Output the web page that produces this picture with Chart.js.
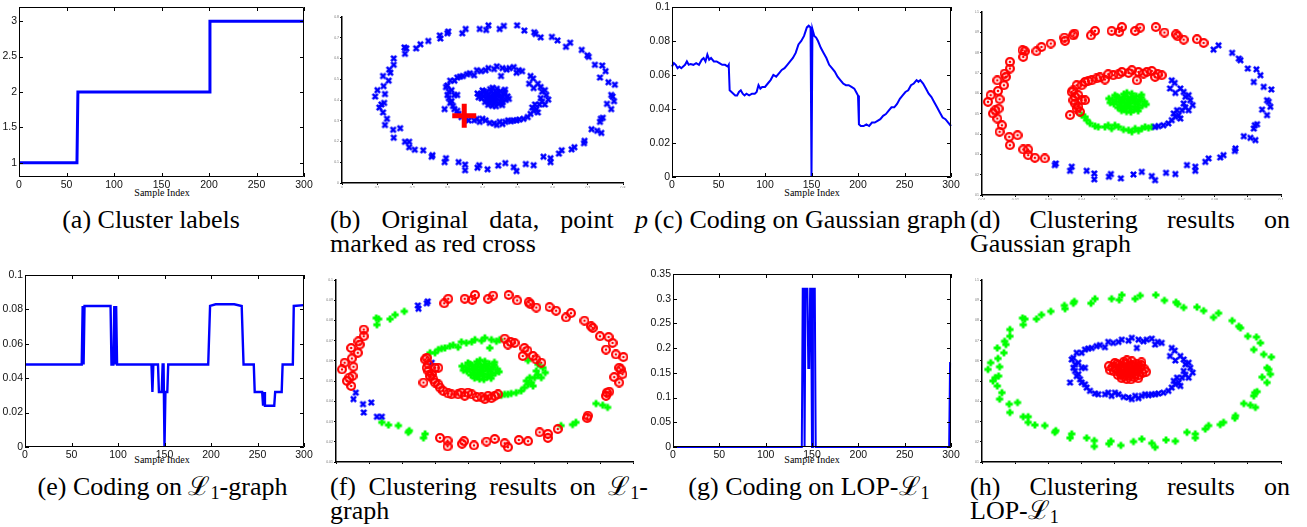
<!DOCTYPE html>
<html>
<head>
<meta charset="utf-8">
<title>Clustering on rings</title>
<script src="https://cdn.jsdelivr.net/npm/chart.js@4.4.1/dist/chart.umd.min.js"></script>
<style>
  body { margin: 0; background: #fff; }
  #fig { position: relative; width: 1307px; height: 527px; overflow: hidden; background: #fff; }
  #fig canvas { position: absolute; }
  .cap { position: absolute; font-family: "Liberation Serif", "Times New Roman", serif; font-size: 26px; line-height: 24px; color: #000; white-space: nowrap; }
  .cap .j { text-align: justify; text-align-last: justify; white-space: normal; }
  .cap sub { font-size: 0.7em; vertical-align: -0.2em; line-height: 0; }
  .xlab { position: absolute; font-family: "Liberation Serif", serif; font-size: 10px; line-height: 10px; transform: translateX(-50%); white-space: nowrap; }
</style>
</head>
<body>
<div id="fig">
  <div class="xlab" style="left:162px;top:188px">Sample Index</div>
  <div class="xlab" style="left:812px;top:188px">Sample Index</div>
  <div class="xlab" style="left:162px;top:455px">Sample Index</div>
  <div class="xlab" style="left:812px;top:455px">Sample Index</div>

  <div class="cap" style="left:0;width:302px;top:208px;text-align:center">(a) Cluster labels</div>
  <div class="cap" style="left:330px;width:318px;top:208px"><div class="j">(b) Original data, point <i>p</i></div><div>marked as red cross</div></div>
  <div class="cap" style="left:650px;width:320px;top:208px;text-align:center">(c) Coding on Gaussian graph</div>
  <div class="cap" style="left:970px;width:320px;top:208px"><div class="j">(d) Clustering results on</div><div>Gaussian graph</div></div>

  <div class="cap" style="left:0;width:325px;top:475px;text-align:center">(e) Coding on ℒ<sub>1</sub>-graph</div>
  <div class="cap" style="left:330px;width:318px;top:475px"><div class="j">(f) Clustering results on ℒ<sub>1</sub>-</div><div>graph</div></div>
  <div class="cap" style="left:650px;width:318px;top:475px;text-align:center">(g) Coding on LOP-ℒ<sub>1</sub></div>
  <div class="cap" style="left:970px;width:320px;top:475px"><div class="j">(h) Clustering results on</div><div>LOP-ℒ<sub>1</sub></div></div>
</div>

<script>
// ---------------- data ----------------
const sampleTicks = [0, 50, 100, 150, 200, 250, 300];

// (a) cluster label of every sample index
const labelSteps = [[0, 1], [61, 1], [62, 2], [200, 2], [201, 3], [300, 3]];
const labelTicks = [1, 1.5, 2, 2.5, 3];
const labelTickText = ['1', '1.5', '2', '2.5', '3'];

// (c) coding of point p on the Gaussian graph
const gaussCoding = [
  [0,0.065],[2,0.067],[4,0.066],[6,0.064],[8,0.065],[10,0.064],[12,0.065],[14,0.066],[16,0.068],[18,0.066],
  [20,0.0665],[23,0.066],[26,0.067],[29,0.066],[32,0.069],[34,0.070],[36,0.068],[38,0.072],[40,0.069],[42,0.070],
  [45,0.068],[48,0.068],[51,0.067],[54,0.066],[57,0.066],[60,0.065],[61,0.066],[62,0.051],[64,0.050],[66,0.049],
  [68,0.048],[70,0.048],[72,0.050],[74,0.051],[76,0.049],[78,0.048],[80,0.049],[83,0.048],[86,0.049],[89,0.049],
  [91,0.050],[93,0.054],[95,0.052],[97,0.053],[100,0.053],[103,0.055],[106,0.057],[109,0.060],[112,0.059],[115,0.061],
  [118,0.063],[121,0.064],[124,0.066],[127,0.068],[130,0.070],[133,0.073],[136,0.078],[139,0.080],[142,0.083],[145,0.088],
  [147,0.089],[149,0.088],[150,0],[151,0.087],[153,0.083],[155,0.082],[157,0.080],[160,0.076],[163,0.073],[166,0.070],
  [169,0.066],[172,0.064],[175,0.062],[178,0.059],[181,0.057],[184,0.055],[187,0.054],[190,0.054],[193,0.053],[196,0.052],
  [198,0.050],[200,0.048],[201,0.031],[203,0.030],[206,0.030],[209,0.031],[212,0.030],[215,0.032],[218,0.032],[221,0.033],
  [224,0.034],[227,0.036],[230,0.037],[233,0.039],[236,0.041],[239,0.041],[242,0.043],[245,0.046],[248,0.048],[251,0.050],
  [254,0.051],[257,0.054],[260,0.055],[263,0.057],[265,0.056],[267,0.057],[270,0.055],[273,0.052],[276,0.049],[279,0.047],
  [282,0.044],[285,0.041],[288,0.038],[291,0.035],[294,0.034],[297,0.032],[300,0.030]
];
const codingTicks = [0, 0.02, 0.04, 0.06, 0.08, 0.1];
const codingTickText = ['0', '0.02', '0.04', '0.06', '0.08', '0.1'];

// (e) coding on the L1-graph
const l1Coding = [
  [0,0.048],[61,0.048],[62,0.082],[63,0.048],[64,0.082],[92,0.082],[93,0.048],[95,0.048],[96,0.082],[97,0.048],
  [98,0.082],[99,0.048],[136,0.048],[137,0.032],[138,0.048],[143,0.048],[144,0.032],[147,0.032],[148,0.048],[149,0.048],
  [150,0],[151,0.032],[153,0.032],[154,0.048],[197,0.048],[199,0.082],[205,0.083],[225,0.083],[233,0.082],[235,0.048],
  [246,0.048],[247,0.032],[255,0.032],[256,0.024],[257,0.032],[258,0.024],[268,0.024],[269,0.032],[276,0.032],[277,0.048],
  [288,0.048],[289,0.082],[300,0.0825]
];

// (g) coding on LOP-L1
const lopCoding = [
  [0,0],[139,0],[140,0.32],[141,0.32],[142,0],[143,0.32],[145,0.32],[146,0.16],[147,0.16],[148,0.32],
  [149,0.32],[150,0],[151,0.32],[153,0.32],[154,0],[298,0],[299,0.17],[300,0.17]
];
const lopTicks = [0, 0.05, 0.1, 0.15, 0.2, 0.25, 0.3, 0.35];
const lopTickText = ['0', '0.05', '0.1', '0.15', '0.2', '0.25', '0.3', '0.35'];

// the three rings of samples (outer ring, inner ring, centre blob), in order along each ring
const outerRing = [
  [0.0971,0.0619],[0.0958,0.0566],[0.0963,0.0558],[0.0968,0.0534],[0.0943,0.0520],[0.0958,0.0493],
  [0.0948,0.0632],[0.0918,0.0656],[0.0938,0.0689],[0.0926,0.0718],[0.0900,0.0722],[0.0878,0.0763],[0.0873,0.0771],[0.0853,0.0799],[0.0812,0.0836],[0.0797,0.0815],
  [0.0767,0.0848],[0.0747,0.0866],[0.0707,0.0864],[0.0689,0.0881],[0.0684,0.0890],[0.0649,0.0899],[0.0623,0.0926],[0.0576,0.0923],[0.0561,0.0907],[0.0521,0.0926],
  [0.0513,0.0902],[0.0490,0.0907],[0.0440,0.0907],[0.0428,0.0885],[0.0378,0.0894],[0.0375,0.0885],[0.0350,0.0858],[0.0348,0.0874],[0.0307,0.0845],[0.0279,0.0828],
  [0.0264,0.0807],[0.0229,0.0807],[0.0222,0.0812],[0.0224,0.0779],
  [0.0184,0.0755],[0.0184,0.0722],[0.0168,0.0697],[0.0172,0.0681],[0.0146,0.0664],[0.0166,0.0640],[0.0148,0.0612],[0.0126,0.0591],[0.0153,0.0571],[0.0118,0.0558],
  [0.0150,0.0525],[0.0140,0.0517],[0.0133,0.0501],[0.0146,0.0476],[0.0160,0.0443],[0.0153,0.0411],
  [0.0182,0.0386],[0.0207,0.0394],[0.0184,0.0345],[0.0224,0.0324],[0.0239,0.0324],[0.0239,0.0296],[0.0259,0.0283],[0.0289,0.0280],
  [0.0319,0.0247],[0.0322,0.0255],[0.0365,0.0219],[0.0370,0.0239],[0.0415,0.0219],[0.0438,0.0206],[0.0438,0.0177],[0.0482,0.0190],[0.0488,0.0203],[0.0518,0.0182],
  [0.0556,0.0201],[0.0581,0.0214],[0.0611,0.0193],[0.0621,0.0173],[0.0654,0.0209],[0.0682,0.0203],[0.0717,0.0247],[0.0742,0.0239],[0.0742,0.0219],[0.0772,0.0263],
  [0.0782,0.0280],[0.0817,0.0285],[0.0827,0.0296],[0.0861,0.0317],[0.0863,0.0329],[0.0888,0.0389],[0.0908,0.0381],[0.0923,0.0370],[0.0921,0.0443],[0.0918,0.0427],
  [0.0928,0.0448]
];
const innerRing = [
  [0.0734,0.0542],[0.0727,0.0566],[0.0722,0.0591],[0.0712,0.0583],[0.0707,0.0607],[0.0697,0.0624],[0.0682,0.0602],[0.0666,0.0624],[0.0680,0.0651],[0.0671,0.0664],
  [0.0641,0.0689],[0.0629,0.0694],[0.0621,0.0681],[0.0611,0.0710],[0.0596,0.0705],[0.0586,0.0697],[0.0571,0.0705],[0.0566,0.0664],[0.0551,0.0714],[0.0541,0.0700],
  [0.0521,0.0705],[0.0511,0.0694],[0.0495,0.0689],[0.0480,0.0694],[0.0470,0.0668],[0.0455,0.0678],[0.0445,0.0673],[0.0430,0.0664],[0.0420,0.0661],[0.0410,0.0656],
  [0.0400,0.0640],[0.0385,0.0640],[0.0375,0.0615],[0.0370,0.0607],[0.0380,0.0583],[0.0390,0.0591],[0.0375,0.0566],[0.0380,0.0550],[0.0400,0.0566],[0.0410,0.0566],
  [0.0390,0.0534],[0.0385,0.0525],[0.0365,0.0493],[0.0395,0.0509],
  [0.0400,0.0493],[0.0410,0.0484],[0.0415,0.0468],[0.0425,0.0452],[0.0440,0.0439],[0.0450,0.0435],[0.0470,0.0435],[0.0480,0.0443],[0.0490,0.0427],[0.0500,0.0443],
  [0.0511,0.0435],[0.0526,0.0422],[0.0541,0.0419],[0.0551,0.0411],[0.0561,0.0427],[0.0571,0.0416],[0.0581,0.0427],[0.0591,0.0435],[0.0601,0.0430],[0.0611,0.0435],
  [0.0621,0.0435],[0.0631,0.0439],[0.0646,0.0443],[0.0661,0.0452],[0.0671,0.0468],[0.0682,0.0484],[0.0697,0.0476],[0.0692,0.0493],[0.0677,0.0501],[0.0687,0.0517],
  [0.0702,0.0517],[0.0722,0.0517],[0.0712,0.0531],[0.0707,0.0550]
];
const centerBlob = [
  [0.0538,0.0553],[0.0520,0.0565],[0.0555,0.0568],[0.0546,0.0536],[0.0515,0.0542],[0.0568,0.0548],[0.0530,0.0585],[0.0549,0.0580],[0.0504,0.0560],[0.0576,0.0569],
  [0.0526,0.0523],[0.0558,0.0520],[0.0497,0.0548],[0.0583,0.0540],[0.0534,0.0540],[0.0542,0.0566],[0.0512,0.0579],[0.0564,0.0586],[0.0509,0.0530],[0.0572,0.0529],
  [0.0535,0.0510],[0.0527,0.0596],[0.0551,0.0598],[0.0493,0.0569],[0.0589,0.0559],[0.0486,0.0554],[0.0546,0.0550],[0.0528,0.0556],[0.0559,0.0556],[0.0539,0.0574],
  [0.0519,0.0533],[0.0561,0.0534],[0.0506,0.0584],[0.0579,0.0580],[0.0544,0.0526],[0.0517,0.0554],[0.0569,0.0560],[0.0531,0.0530],[0.0554,0.0576],[0.0523,0.0570],
  [0.0482,0.0574],[0.0594,0.0546],[0.0548,0.0508],[0.0520,0.0515],[0.0570,0.0514],[0.0536,0.0603],[0.0500,0.0590],[0.0580,0.0593]
];
const pointP = [0.0435, 0.0459];

// cluster colour of the points along each ring, as runs: [colour, count]
const dOuterRuns = [['b', 16], ['r', 48], ['b', 31]];
const dInnerRuns = [['b', 10], ['r', 34], ['g', 20], ['b', 14]];
const dCenterRuns = [['g', 48]];
const fOuterRuns = [['r', 30], ['b', 4], ['g', 6], ['r', 14], ['b', 7], ['g', 7], ['r', 16], ['g', 3], ['r', 2], ['g', 3], ['r', 3]];
const fInnerRuns = [['g', 2], ['r', 1], ['g', 1], ['r', 2], ['g', 1], ['r', 7], ['g', 18], ['r', 3], ['b', 1], ['r', 26], ['g', 16]];
const fCenterRuns = [['g', 48]];
const hOuterRuns = [['g', 95]];
const hInnerRuns = [['b', 78]];
const hCenterRuns = [['r', 48]];
const allBlue = [[['b', 95]], [['b', 78]], [['b', 48]]];

const origTickText = ['0', '0.1', '0.2', '0.3', '0.4', '0.5', '0.6', '0.7', '0.8'];
const ringTickText = ['0.01', '0.02', '0.03', '0.04', '0.05', '0.06', '0.07', '0.08', '0.09', '0.1'];

// ---------------- drawing ----------------
Chart.defaults.font.family = '"Liberation Sans", Arial, sans-serif';

const frameBox = {
  id: 'frameBox',
  afterDatasetsDraw(chart) {
    const { ctx, chartArea: a, scales: { x, y } } = chart;
    const len = 4;
    ctx.save();
    ctx.strokeStyle = '#000';
    ctx.lineWidth = 1;
    ctx.beginPath();
    ctx.rect(Math.round(a.left) + 0.5, Math.round(a.top) + 0.5, Math.round(a.width) - 1, Math.round(a.height) - 1);
    x.ticks.forEach(t => {
      const px = Math.round(x.getPixelForValue(t.value)) + 0.5;
      ctx.moveTo(px, a.bottom); ctx.lineTo(px, a.bottom - len);
      ctx.moveTo(px, a.top); ctx.lineTo(px, a.top + len);
    });
    y.ticks.forEach(t => {
      const py = Math.round(y.getPixelForValue(t.value)) + 0.5;
      ctx.moveTo(a.left, py); ctx.lineTo(a.left + len, py);
      ctx.moveTo(a.right, py); ctx.lineTo(a.right - len, py);
    });
    ctx.stroke();
    ctx.restore();
  }
};

function addCanvas(left, top, w, h) {
  const c = document.createElement('canvas');
  c.width = w; c.height = h;
  c.style.left = left + 'px'; c.style.top = top + 'px';
  c.style.width = w + 'px'; c.style.height = h + 'px';
  document.getElementById('fig').appendChild(c);
  return c;
}

function fixedTicks(values) {
  return s => { s.ticks = values.map(v => ({ value: v })); };
}

// area = [left, top, right, bottom] of the plot, page pixels
function frameOptions(pos, area) {
  const [left, top, w, h] = pos;
  const l = area[0] - left, t = area[1] - top, r = area[2] - left, b = area[3] - top;
  return {
    padding: { left: 0, top: t, right: w - r, bottom: 0 },
    xFit: s => { s.height = h - b; s.paddingLeft = 0; s.paddingRight = 0; },
    yFit: s => { s.width = l; s.paddingTop = 0; s.paddingBottom = 0; }
  };
}

function codingChart(pos, area, series, yMin, yMax, yTicks, yText, lineWidth) {
  const f = frameOptions(pos, area);
  new Chart(addCanvas(...pos), {
    type: 'line',
    data: {
      datasets: [{
        data: series.map(([x, y]) => ({ x, y })),
        borderColor: '#0000ff', borderWidth: lineWidth, pointRadius: 0, tension: 0, clip: 3
      }]
    },
    options: {
      responsive: false, animation: false, events: [],
      layout: { padding: f.padding },
      plugins: { legend: { display: false }, tooltip: { enabled: false } },
      scales: {
        x: {
          type: 'linear', min: 0, max: 300,
          afterBuildTicks: fixedTicks(sampleTicks), afterFit: f.xFit,
          grid: { display: false, drawTicks: false }, border: { display: false },
          ticks: { padding: 2, maxRotation: 0, autoSkip: false, color: '#111', font: { size: 10.5 } }
        },
        y: {
          min: yMin, max: yMax,
          afterBuildTicks: fixedTicks(yTicks), afterFit: f.yFit,
          grid: { display: false, drawTicks: false }, border: { display: false },
          ticks: { padding: 2, autoSkip: false, color: '#111', font: { size: 10.5 }, callback: (v, i) => yText[i] }
        }
      }
    },
    plugins: [frameBox]
  });
}

function makeMarker(kind, color, size, lw) {
  const c = document.createElement('canvas');
  c.width = size; c.height = size;
  const g = c.getContext('2d');
  g.strokeStyle = color; g.fillStyle = color; g.lineWidth = lw;
  const m = size / 2, r = m - lw / 2;
  g.beginPath();
  if (kind === 'x') {
    const d = r * 0.8;
    g.moveTo(m - d, m - d); g.lineTo(m + d, m + d);
    g.moveTo(m + d, m - d); g.lineTo(m - d, m + d);
    g.stroke();
  } else if (kind === '+') {
    g.moveTo(m - r, m); g.lineTo(m + r, m);
    g.moveTo(m, m - r); g.lineTo(m, m + r);
    g.stroke();
  } else {
    g.arc(m, m, r, 0, 2 * Math.PI);
    g.stroke();
    g.beginPath();
    g.arc(m, m, 1.3, 0, 2 * Math.PI);
    g.fill();
  }
  return c;
}

const markers = {
  b: makeMarker('x', '#0000ff', 9, 2.6),
  g: makeMarker('+', '#00ff00', 10, 2.8),
  r: makeMarker('o', '#ff0000', 10, 2.2)
};

function runsToColours(runs) {
  const out = [];
  runs.forEach(([c, n]) => { for (let i = 0; i < n; i++) out.push(c); });
  return out;
}

function groupPoints(runSets) {
  const pts = { r: [], b: [], g: [] };
  [outerRing, innerRing, centerBlob].forEach((ring, k) => {
    const col = runsToColours(runSets[k]);
    ring.forEach((p, i) => pts[col[i] || 'b'].push({ x: p[0], y: p[1] }));
  });
  return pts;
}

function ringChart(pos, area, runSets, xRange, yRange, xText, yText, extra) {
  const f = frameOptions(pos, area);
  const pts = groupPoints(runSets);
  const datasets = (extra || []).concat(['r', 'b', 'g'].map(c => ({
    data: pts[c], pointStyle: markers[c], pointRadius: 4, showLine: false
  })));
  const axis = (range, text, fit) => ({
    type: 'linear', min: range[0], max: range[1], afterFit: fit,
    grid: { display: true, drawOnChartArea: false, drawTicks: true, tickLength: 2, color: '#000' },
    border: { display: true, color: '#000', width: 1.5 },
    ticks: { count: text.length, padding: 1, autoSkip: false, maxRotation: 0, color: '#777', font: { size: 3.5 },
             callback: (v, i) => text[i] }
  });
  new Chart(addCanvas(...pos), {
    type: 'scatter',
    data: { datasets },
    options: {
      responsive: false, animation: false, events: [],
      layout: { padding: f.padding },
      plugins: { legend: { display: false }, tooltip: { enabled: false } },
      scales: { x: axis(xRange, xText, f.xFit), y: axis(yRange, yText, f.yFit) }
    }
  });
}

// (a) cluster labels
codingChart([0, 0, 325, 200], [19, 7, 304, 177], labelSteps, 0.8, 3.2, labelTicks, labelTickText, 3);
// (c) Gaussian graph coding
codingChart([640, 0, 335, 200], [672, 7, 951, 177], gaussCoding, 0, 0.1, codingTicks, codingTickText, 2);
// (e) L1-graph coding
codingChart([0, 262, 325, 205], [25, 275, 304, 447], l1Coding, 0, 0.1, codingTicks, codingTickText, 2.4);
// (g) LOP-L1 coding
codingChart([640, 262, 335, 205], [673, 274, 951, 447], lopCoding, 0, 0.35, lopTicks, lopTickText, 2);

// (b) original data with point p
ringChart([325, 0, 315, 200], [333, 10, 635, 195], allBlue, [0, 0.1], [0.0111, 0.0969], origTickText, origTickText,
  [{ data: [{ x: pointP[0], y: pointP[1] }], pointStyle: 'cross', pointRadius: 12, pointBorderWidth: 5,
     borderColor: '#ff0000', showLine: false }]);
// (d) Gaussian graph clustering
ringChart([975, 0, 332, 200], [982, 12, 1281, 195], [dOuterRuns, dInnerRuns, dCenterRuns], [0.01, 0.1], [0.01, 0.1], ringTickText, ringTickText);
// (f) L1-graph clustering
ringChart([325, 262, 315, 205], [336, 280, 633, 464], [fOuterRuns, fInnerRuns, fCenterRuns], [0.01, 0.1], [0.01, 0.1], ringTickText, ringTickText);
// (h) LOP-L1 clustering
ringChart([975, 262, 332, 205], [982, 280, 1281, 464], [hOuterRuns, hInnerRuns, hCenterRuns], [0.01, 0.1], [0.01, 0.1], ringTickText, ringTickText);
</script>
</body>
</html>
